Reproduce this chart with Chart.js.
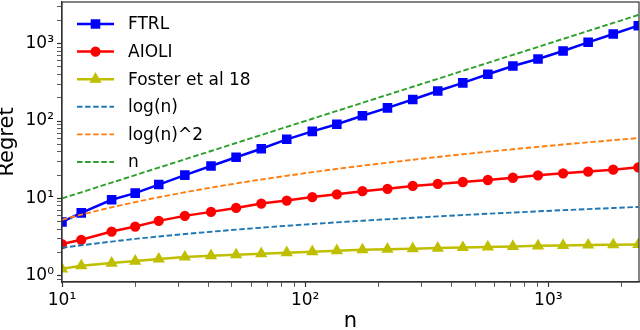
<!DOCTYPE html>
<html>
<head>
<meta charset="utf-8">
<script src="https://cdn.jsdelivr.net/npm/chart.js@4/dist/chart.umd.min.js"></script>
<style>
  html, body { margin: 0; padding: 0; background: #fff; }
  #wrap { width: 640px; height: 330px; position: relative; }
</style>
</head>
<body>
<div id="wrap"><canvas id="regretChart"></canvas></div>
<script>
// horizon n (x values of every curve)
const nValues = [10, 12, 16, 20, 25, 32, 41, 52, 66, 84, 107, 135, 172, 218, 277, 351, 445, 564, 715, 907, 1150, 1458, 1849, 2344];

// measured regret
const ftrl = [4.96, 6.5, 9.6, 11.7, 15.1, 20.0, 26.2, 34.0, 43.8, 58, 73.5, 91, 117, 148, 190, 244, 311, 402, 514, 634, 803, 1040, 1330, 1706];
const aioli = [2.57, 2.92, 3.73, 4.33, 5.13, 5.95, 6.70, 7.54, 8.58, 9.37, 10.4, 11.3, 12.4, 13.3, 14.5, 15.4, 16.3, 17.3, 18.5, 19.9, 21.1, 22.2, 23.5, 25.2];
const foster = [1.23, 1.35, 1.46, 1.55, 1.65, 1.75, 1.82, 1.87, 1.93, 1.99, 2.05, 2.11, 2.17, 2.21, 2.24, 2.28, 2.32, 2.36, 2.40, 2.44, 2.47, 2.50, 2.52, 2.54];

// reference curves
const logN = [2.30, 2.48, 2.77, 3.00, 3.22, 3.47, 3.71, 3.95, 4.19, 4.43, 4.67, 4.91, 5.15, 5.38, 5.62, 5.86, 6.10, 6.34, 6.57, 6.81, 7.05, 7.28, 7.52, 7.76];
const logN2 = [5.30, 6.17, 7.69, 8.97, 10.36, 12.01, 13.79, 15.61, 17.55, 19.63, 21.84, 24.07, 26.49, 28.95, 31.62, 34.33, 37.22, 40.19, 43.17, 46.39, 49.68, 53.04, 56.60, 60.20];
const linN = [10, 12, 16, 20, 25, 32, 41, 52, 66, 84, 107, 135, 172, 218, 277, 351, 445, 564, 715, 907, 1150, 1458, 1849, 2344];

// axis ticks
const xMajorTicks = [10, 100, 1000];
const yMajorTicks = [1, 10, 100, 1000];
const supers = { '0': '\u2070', '1': '\u00B9', '2': '\u00B2', '3': '\u00B3' };

function pts(ys) {
  return ys.map((y, i) => ({ x: nValues[i], y: y }));
}

// major + minor tick values inside [lo, hi]
function logTicks(majors, lo, hi) {
  const out = [];
  majors.concat([majors[0] / 10]).forEach(m => {
    for (let k = 1; k <= 9; k++) {
      const v = m * k;
      if (v >= lo && v <= hi) out.push({ value: v, major: k === 1 });
    }
  });
  return out.sort((a, b) => a.value - b.value);
}

function powLabel(value) {
  const e = Math.round(Math.log10(value));
  if (Math.abs(Math.log10(value) - e) > 1e-6) return '';
  return '10' + String(e).split('').map(c => supers[c]).join('');
}

Chart.defaults.font.family = "'DejaVu Sans', sans-serif";
Chart.defaults.color = '#000';

const X_MIN = 10, X_MAX = 2360, Y_MIN = 0.832, Y_MAX = 3450;

// matplotlib style legend in the upper left of the plot
const legendInside = {
  id: 'legendInside',
  afterDraw(chart) {
    const ctx = chart.ctx;
    const area = chart.chartArea;
    ctx.save();
    chart.data.datasets.forEach((ds, i) => {
      const y = area.top + 22 + i * 27.6;
      ctx.strokeStyle = ds.borderColor;
      ctx.lineWidth = ds.borderWidth;
      ctx.setLineDash(ds.borderDash || []);
      ctx.beginPath();
      ctx.moveTo(77, y);
      ctx.lineTo(114, y);
      ctx.stroke();
      ctx.setLineDash([]);
      if (ds.pointRadius > 0) {
        ctx.fillStyle = ds.pointBackgroundColor;
        ctx.strokeStyle = ds.pointBorderColor;
        Chart.helpers.drawPoint(ctx, { pointStyle: ds.pointStyle, radius: ds.pointRadius, rotation: 0, borderWidth: 1 }, 95.5, y);
      }
      ctx.fillStyle = '#000';
      ctx.font = "17px 'DejaVu Sans'";
      ctx.textBaseline = 'middle';
      ctx.fillText(ds.label, 128, y + 1);
    });
    ctx.restore();
  }
};

// box around the axes
const frameBox = {
  id: 'frameBox',
  afterDraw(chart) {
    const a = chart.chartArea;
    const ctx = chart.ctx;
    ctx.save();
    ctx.strokeStyle = '#333';
    ctx.lineWidth = 1.2;
    ctx.strokeRect(a.left, a.top, a.right - a.left, a.bottom - a.top);
    ctx.restore();
  }
};

function solid(label, data, color, style, radius) {
  return {
    label: label, data: pts(data), borderColor: color, backgroundColor: color,
    pointBackgroundColor: color, pointBorderColor: color, pointStyle: style,
    pointRadius: radius, pointHoverRadius: radius, borderWidth: 2.5, tension: 0
  };
}
function dashed(label, data, color) {
  return {
    label: label, data: pts(data), borderColor: color, backgroundColor: color,
    borderDash: [5.5, 2.6], pointRadius: 0, borderWidth: 1.9, tension: 0
  };
}

const datasets = [
  solid('FTRL', ftrl, '#0000ff', 'rect', 5),
  solid('AIOLI', aioli, '#ff0000', 'circle', 3.9),
  solid('Foster et al 18', foster, '#bfbf00', 'triangle', 4.6),
  dashed('log(n)', logN, '#1f77b4'),
  dashed('log(n)^2', logN2, '#ff7f0e'),
  dashed('n', linN, '#2ca02c')
];
// later series drawn on top, as in the original plot
datasets.forEach((d, i) => { d.order = datasets.length - i; });

const ctx = document.getElementById('regretChart').getContext('2d');
new Chart(ctx, {
  type: 'line',
  data: { datasets: datasets },
  plugins: [frameBox, legendInside],
  options: {
    responsive: true,
    maintainAspectRatio: false,
    devicePixelRatio: 1,
    animation: false,
    layout: { autoPadding: false, padding: { top: 2, right: 1, left: 0, bottom: 0 } },
    plugins: { legend: { display: false }, tooltip: { enabled: false } },
    scales: {
      x: {
        type: 'logarithmic',
        min: X_MIN,
        max: X_MAX,
        afterBuildTicks: s => { s.ticks = logTicks(xMajorTicks, X_MIN, X_MAX); },
        afterFit: s => { s.height = 48; s.paddingLeft = 0; s.paddingRight = 0; },
        grid: {
          drawOnChartArea: false, drawTicks: true, tickLength: 5,
          tickColor: '#333', tickWidth: c => (c.tick && c.tick.major ? 1.2 : 0.8)
        },
        border: { display: true, color: '#333', width: 1.2 },
        ticks: {
          autoSkip: false, maxRotation: 0, padding: 3,
          font: { size: 17 }, color: '#000',
          callback: v => powLabel(v)
        },
        title: { display: true, text: 'n', font: { size: 21, lineHeight: 1 }, padding: { top: 0, bottom: -2 }, color: '#000' }
      },
      y: {
        type: 'logarithmic',
        min: Y_MIN,
        max: Y_MAX,
        afterBuildTicks: s => { s.ticks = logTicks(yMajorTicks, Y_MIN, Y_MAX); },
        afterFit: s => { s.width = 62; s.paddingTop = 0; s.paddingBottom = 0; },
        grid: {
          drawOnChartArea: false, drawTicks: true, tickLength: 5,
          tickColor: '#333', tickWidth: c => (c.tick && c.tick.major ? 1.2 : 0.8)
        },
        border: { display: true, color: '#333', width: 1.2 },
        ticks: {
          autoSkip: false, padding: 3,
          font: { size: 17 }, color: '#000',
          callback: v => powLabel(v)
        },
        title: { display: true, text: 'Regret', font: { size: 21, lineHeight: 0.75 }, padding: { top: 0, bottom: 0 }, color: '#000' }
      }
    }
  }
});
</script>
</body>
</html>
